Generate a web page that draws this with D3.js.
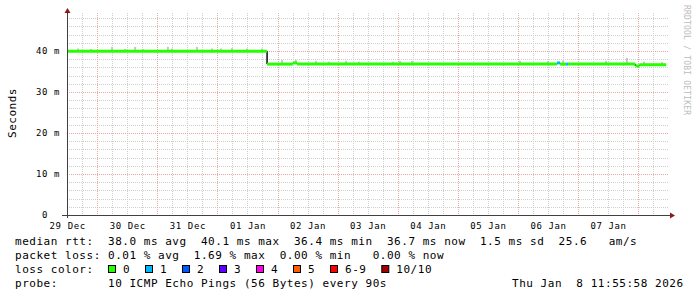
<!DOCTYPE html>
<html>
<head>
<meta charset="utf-8">
<script src="https://cdn.jsdelivr.net/npm/d3@7"></script>
<style>
  body { margin: 0; background: #fff; }
  svg { display: block; }
  text { font-family: "DejaVu Sans Mono", monospace; white-space: pre; }
</style>
</head>
<body>
<svg id="chart"></svg>
<script>
const fullWidth = 697;
const fullHeight = 297;

// graph covers the last 10 days up to the stamp
const startTime = new Date(Date.UTC(2025, 11, 29, 11, 56));
const spanHours = 240;

// median rtt, step data: value holds until the next point
const rttHours = [0, 79.9, 90.2, 91.8, 195.7, 196.9, 199.3, 200.1, 227.0, 228.6, 239.3];
const rttMs = [39.95, 36.8, 37.1, 36.8, 37.1, 36.8, 36.8, 36.8, 36.35, 36.65, 36.65];
const rttLoss = [0, 0, 0, 0, 1, 0, 1, 0, 0, 0, 0];

// smoke (ping spread) specks
const smokeHours = [4.0, 9.2, 17.6, 22.8, 26.8, 29.9, 39.9, 41.5, 51.5, 57.5, 61.1, 65.5, 71.5, 77.5,
  85.5, 91.0, 99.0, 104.2, 111.0, 116.2, 129.8, 132.6, 137.4, 180.5, 191.7, 197.7, 214.8, 223.2, 230.0, 237.2];
const smokeLoMs = [40.1, 40.1, 40.1, 40.1, 40.1, 40.1, 40.1, 40.1, 40.1, 40.1, 40.1, 40.1, 40.1, 40.1,
  36.9, 36.9, 36.9, 36.9, 36.9, 36.9, 36.9, 36.9, 36.9, 36.9, 36.9, 36.9, 36.9, 36.9, 36.7, 36.7];
const smokeHiMs = [40.6, 40.5, 41.0, 40.5, 41.0, 40.5, 41.0, 40.6, 41.0, 40.6, 40.6, 40.7, 40.6, 40.6,
  37.8, 37.8, 37.6, 37.4, 37.6, 37.4, 37.4, 37.6, 37.6, 37.6, 37.6, 37.7, 37.6, 38.3, 37.4, 37.3];
const smokeStepHours = 0.8;

const yTicks = [0, 10, 20, 30, 40];
const lossLabels = ['0', '1', '2', '3', '4', '5', '6-9', '10/10'];
const lossColors = ['#26ff00', '#00b8ff', '#0059ff', '#5e00ff', '#ff00e8', '#ff5e00', '#ff0000', '#a10000'];

const legendRows = [
  'median rtt:  38.0 ms avg  40.1 ms max  36.4 ms min  36.7 ms now  1.5 ms sd  25.6   am/s',
  'packet loss: 0.01 % avg  1.69 % max  0.00 % min   0.00 % now',
  'loss color:',
  'probe:       10 ICMP Echo Pings (56 Bytes) every 90s',
];
const stampText = 'Thu Jan  8 11:55:58 2026';
const yTitle = 'Seconds';
const watermark = 'RRDTOOL / TOBI OETIKER';

const plot = {left: 67, right: 668, top: 13, bottom: 215};
const charW = 7.15;

const atHour = h => new Date(+startTime + h * 3600e3);
const endTime = atHour(spanHours);

const x = d3.scaleUtc().domain([startTime, endTime]).range([plot.left, plot.right]);
const y = d3.scaleLinear().domain([0, 50]).range([plot.bottom, 10]);
const crisp = v => Math.round(v) + 0.5;

const svg = d3.select('#chart')
  .attr('width', fullWidth)
  .attr('height', fullHeight);

svg.append('rect').attr('width', fullWidth).attr('height', fullHeight).attr('fill', '#fff');

// grid
const grid = svg.append('g').attr('class', 'grid');

const minorY = d3.range(2, 50, 2).filter(v => v % 10 !== 0 && y(v) >= plot.top);
const minorX = d3.utcHour.every(6).range(startTime, endTime).filter(d => d.getUTCHours() !== 0);
const majorX = d3.utcDay.range(startTime, endTime);

grid.selectAll('.minor-y').data(minorY).enter().append('line')
  .attr('x1', plot.left).attr('x2', plot.right)
  .attr('y1', d => crisp(y(d))).attr('y2', d => crisp(y(d)))
  .attr('stroke', '#cfcfcf').attr('stroke-dasharray', '1,1');

grid.selectAll('.minor-x').data(minorX).enter().append('line')
  .attr('x1', d => crisp(x(d))).attr('x2', d => crisp(x(d)))
  .attr('y1', plot.top).attr('y2', plot.bottom)
  .attr('stroke', '#cfcfcf').attr('stroke-dasharray', '1,1');

grid.selectAll('.major-y').data(yTicks.filter(v => v > 0)).enter().append('line')
  .attr('x1', plot.left).attr('x2', plot.right)
  .attr('y1', d => crisp(y(d))).attr('y2', d => crisp(y(d)))
  .attr('stroke', '#e9a8a8').attr('stroke-dasharray', '1,1');

grid.selectAll('.major-x').data(majorX).enter().append('line')
  .attr('x1', d => crisp(x(d))).attr('x2', d => crisp(x(d)))
  .attr('y1', plot.top).attr('y2', plot.bottom)
  .attr('stroke', '#e9a8a8').attr('stroke-dasharray', '1,1');

// smoke
svg.append('g').selectAll('rect').data(smokeHours).enter().append('rect')
  .attr('x', h => x(atHour(h)))
  .attr('width', h => x(atHour(h + smokeStepHours)) - x(atHour(h)))
  .attr('y', (h, i) => y(smokeHiMs[i]))
  .attr('height', (h, i) => y(smokeLoMs[i]) - y(smokeHiMs[i]))
  .attr('fill', '#c6c6c6');

// median line, coloured by loss
const steps = rttHours.slice(0, -1).map((h, i) => ({
  h0: h, h1: rttHours[i + 1], v: rttMs[i], prev: i > 0 ? rttMs[i - 1] : rttMs[i], loss: rttLoss[i]
}));

const median = svg.append('g');
median.selectAll('.jump').data(steps.filter(s => s.prev !== s.v)).enter().append('line')
  .attr('x1', s => x(atHour(s.h0))).attr('x2', s => x(atHour(s.h0)))
  .attr('y1', s => y(s.prev)).attr('y2', s => y(s.v))
  .attr('stroke', '#1a1a1a').attr('stroke-width', 1.6);

median.selectAll('.seg').data(steps).enter().append('line')
  .attr('x1', s => x(atHour(s.h0))).attr('x2', s => x(atHour(s.h1)))
  .attr('y1', s => y(s.v)).attr('y2', s => y(s.v))
  .attr('stroke', s => lossColors[s.loss]).attr('stroke-width', 3);

// axes
const axisColor = '#404040';
const arrowColor = '#8b1a1a';

svg.append('line')
  .attr('x1', plot.left - 5).attr('x2', plot.right + 4)
  .attr('y1', plot.bottom + 0.5).attr('y2', plot.bottom + 0.5)
  .attr('stroke', axisColor);
svg.append('line')
  .attr('x1', plot.left + 0.5).attr('x2', plot.left + 0.5)
  .attr('y1', plot.bottom + 3).attr('y2', 11)
  .attr('stroke', axisColor);
svg.append('path')
  .attr('d', `M${plot.left + 0.5},8 L${plot.left - 2.5},13 L${plot.left + 3.5},13 Z`)
  .attr('fill', arrowColor);
svg.append('path')
  .attr('d', `M${plot.right + 7},${plot.bottom + 0.5} L${plot.right + 2},${plot.bottom - 2.5} L${plot.right + 2},${plot.bottom + 3.5} Z`)
  .attr('fill', arrowColor);

const yAxis = svg.append('g')
  .attr('transform', `translate(${plot.left},0)`)
  .call(d3.axisLeft(y).tickValues(yTicks).tickSize(0).tickPadding(7)
    .tickFormat(d => d === 0 ? '0  ' : `${d} m`));

const noons = d3.utcDay.range(d3.utcDay.floor(startTime), endTime)
  .map(d => d3.utcHour.offset(d, 12))
  .filter(d => d >= startTime && d < endTime);

const xAxis = svg.append('g')
  .attr('transform', `translate(0,${plot.bottom})`)
  .call(d3.axisBottom(x).tickValues(noons).tickSize(0).tickPadding(7.5)
    .tickFormat(d3.utcFormat('%d %b')));

[yAxis, xAxis].forEach(a => {
  a.select('.domain').remove();
  a.selectAll('text')
    .attr('font-family', '"DejaVu Sans Mono", monospace')
    .attr('font-size', 9)
    .attr('letter-spacing', 0.6)
    .attr('fill', '#000');
});

// y title
svg.append('text')
  .attr('transform', 'translate(16,113) rotate(-90)')
  .attr('text-anchor', 'middle')
  .attr('font-size', 11)
  .attr('letter-spacing', 0.5)
  .text(yTitle);

// watermark
svg.append('text')
  .attr('transform', 'translate(684,5) rotate(90)')
  .attr('font-size', 8)
  .attr('letter-spacing', 0.2)
  .attr('fill', '#bcbcbc')
  .text(watermark);

// legend
const legend = svg.append('g')
  .attr('font-size', 11)
  .attr('letter-spacing', 0.53)
  .attr('fill', '#000');

legend.selectAll('.row').data(legendRows).enter().append('text')
  .attr('x', 15)
  .attr('y', (d, i) => 245 + i * 14)
  .text(d => d);

legend.append('text')
  .attr('x', 512)
  .attr('y', 245 + 3 * 14)
  .text(stampText);

let boxX = 108;
lossLabels.forEach((label, i) => {
  legend.append('rect')
    .attr('x', boxX + 0.5).attr('y', 265.5)
    .attr('width', 7).attr('height', 7)
    .attr('fill', lossColors[i])
    .attr('stroke', '#000');
  legend.append('text')
    .attr('x', boxX + 15)
    .attr('y', 245 + 2 * 14)
    .text(label);
  boxX = boxX + 15 + label.length * charW + 14.85;
});
</script>
</body>
</html>
